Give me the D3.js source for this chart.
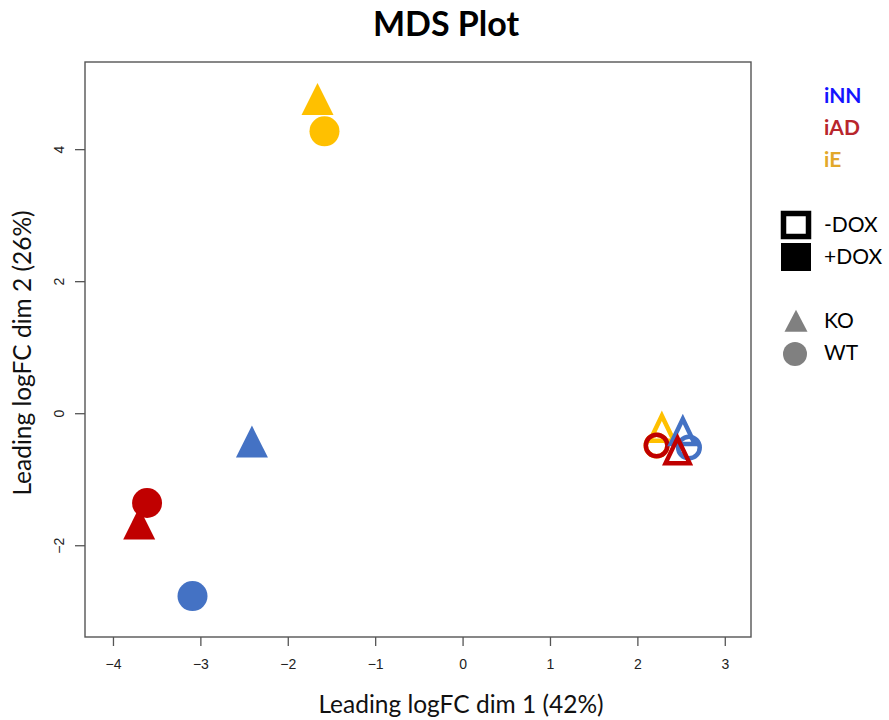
<!DOCTYPE html>
<html>
<head>
<meta charset="utf-8">
<script src="https://cdn.jsdelivr.net/npm/d3@7"></script>
<style>
  html, body { margin: 0; padding: 0; background: #fff; }
  svg { display: block; }
</style>
</head>
<body>
<svg id="chart" width="889" height="720"></svg>
<script>
// ---- data ----
const cellTypes = ["iE", "iE", "iNN", "iAD", "iAD", "iNN", "iE", "iE", "iAD", "iNN", "iNN", "iAD"];
const doxState  = ["+DOX", "+DOX", "+DOX", "+DOX", "+DOX", "+DOX", "-DOX", "-DOX", "-DOX", "-DOX", "-DOX", "-DOX"];
const genotypes = ["KO", "WT", "KO", "WT", "KO", "WT", "WT", "KO", "WT", "KO", "WT", "KO"];
const dim1      = [-1.66, -1.58, -2.41, -3.61, -3.70, -3.09, 2.22, 2.28, 2.22, 2.52, 2.59, 2.46];
const dim2      = [4.68, 4.27, -0.51, -1.36, -1.75, -2.77, -0.49, -0.29, -0.49, -0.34, -0.52, -0.63];

const xTicks = [-4, -3, -2, -1, 0, 1, 2, 3];
const yTicks = [-2, 0, 2, 4];

const groupNames = ["iNN", "iAD", "iE"];
const doxNames = ["-DOX", "+DOX"];
const genoNames = ["KO", "WT"];

const title = "MDS Plot";
const xLabel = "Leading logFC dim 1 (42%)";
const yLabel = "Leading logFC dim 2 (26%)";

// ---- styles ----
const pointColor = { iNN: "#4472C4", iAD: "#C00000", iE: "#FFC000" };
const legendTextColor = { iNN: "#1414FF", iAD: "#B8262C", iE: "#E2A82A" };
const calibriLike = "Lato, 'Open Sans', sans-serif";

const svg = d3.select("#chart");
const box = { left: 85, right: 751, top: 62, bottom: 637 };

const x = d3.scaleLinear().domain([-4.32, 3.30]).range([box.left, box.right]);
const y = d3.scaleLinear().domain([-3.39, 5.32]).range([box.bottom, box.top]);

// title
svg.append("text")
  .attr("x", 446).attr("y", 36)
  .attr("text-anchor", "middle")
  .style("font-family", calibriLike)
  .style("font-weight", "bold")
  .style("font-size", "34px")
  .attr("fill", "#000")
  .text(title);

// axes
const fmt = d => d < 0 ? "\u2212" + Math.abs(d) : String(d);
const xAxis = svg.append("g")
  .attr("transform", `translate(0,${box.bottom})`)
  .call(d3.axisBottom(x).tickValues(xTicks).tickSize(9).tickSizeOuter(0).tickFormat(fmt));
xAxis.select(".domain").remove();
xAxis.selectAll("line").attr("stroke", "#555").attr("stroke-width", 1.3);
xAxis.selectAll("text")
  .attr("y", 22)
  .style("font-family", "'Liberation Sans', Arial, sans-serif")
  .style("font-size", "14px")
  .attr("fill", "#222");

const yAxis = svg.append("g")
  .attr("transform", `translate(${box.left},0)`)
  .call(d3.axisLeft(y).tickValues(yTicks).tickSize(10).tickSizeOuter(0).tickFormat(fmt));
yAxis.select(".domain").remove();
yAxis.selectAll("line").attr("stroke", "#555").attr("stroke-width", 1.3);
yAxis.selectAll("text")
  .attr("x", null).attr("dy", null)
  .attr("text-anchor", "middle")
  .attr("transform", "translate(-26,0) rotate(-90)")
  .attr("dominant-baseline", "central")
  .style("font-family", "'Liberation Sans', Arial, sans-serif")
  .style("font-size", "14px")
  .attr("fill", "#222");

// plot box
svg.append("rect")
  .attr("x", box.left).attr("y", box.top)
  .attr("width", box.right - box.left).attr("height", box.bottom - box.top)
  .attr("fill", "none").attr("stroke", "#555").attr("stroke-width", 1.4);

// axis labels
svg.append("text")
  .attr("x", 461).attr("y", 713)
  .attr("text-anchor", "middle")
  .style("font-family", calibriLike)
  .style("font-size", "24.5px")
  .attr("fill", "#111")
  .text(xLabel);

svg.append("text")
  .attr("transform", "translate(31,353) rotate(-90)")
  .attr("text-anchor", "middle")
  .style("font-family", calibriLike)
  .style("font-size", "24.5px")
  .attr("fill", "#111")
  .text(yLabel);

// custom isosceles triangle centred on centroid
function triPath(w, h) {
  return `M0,${-2 * h / 3}L${w / 2},${h / 3}L${-w / 2},${h / 3}Z`;
}

// points
const pts = dim1.map((d, i) => ({ x: d, y: dim2[i], cell: cellTypes[i], dox: doxState[i], geno: genotypes[i] }));
const gPts = svg.append("g");
pts.forEach(p => {
  const col = pointColor[p.cell];
  const filled = p.dox === "+DOX";
  const cx = x(p.x), cy = y(p.y);
  if (p.geno === "KO") {
    gPts.append("path")
      .attr("d", filled ? triPath(32, 32) : triPath(24, 25))
      .attr("transform", `translate(${cx},${cy})`)
      .attr("fill", filled ? col : "none")
      .attr("stroke", filled ? "none" : col)
      .attr("stroke-width", filled ? 0 : 4.5)
      .attr("stroke-linejoin", "miter");
  } else {
    gPts.append("circle")
      .attr("cx", cx).attr("cy", cy)
      .attr("r", filled ? 15 : 10.8)
      .attr("fill", filled ? col : "none")
      .attr("stroke", filled ? "none" : col)
      .attr("stroke-width", filled ? 0 : 4.5);
  }
});

// legend: cell types
const legX = 824;
const legY = [103, 135, 167];
groupNames.forEach((g, i) => {
  svg.append("text")
    .attr("x", legX).attr("y", legY[i])
    .style("font-family", calibriLike)
    .style("font-weight", "bold")
    .style("font-size", "21px")
    .attr("fill", legendTextColor[g])
    .text(g);
});

// legend: DOX
const doxY = [211, 243];
doxNames.forEach((d, i) => {
  if (d === "-DOX") {
    svg.append("rect")
      .attr("x", 783.5).attr("y", doxY[i] + 2.5)
      .attr("width", 25).attr("height", 23)
      .attr("fill", "#fff").attr("stroke", "#000").attr("stroke-width", 5.5);
  } else {
    svg.append("rect")
      .attr("x", 781).attr("y", doxY[i])
      .attr("width", 30).attr("height", 28)
      .attr("fill", "#000");
  }
  svg.append("text")
    .attr("x", legX).attr("y", doxY[i] + 21)
    .style("font-family", calibriLike)
    .style("font-size", "21px")
    .attr("fill", "#000")
    .text(d);
});

// legend: genotype
svg.append("path")
  .attr("d", triPath(23, 22))
  .attr("transform", "translate(796,324.5)")
  .attr("fill", "#808080");
svg.append("circle")
  .attr("cx", 795).attr("cy", 354).attr("r", 12)
  .attr("fill", "#808080");
const genoY = [328, 360];
genoNames.forEach((g, i) => {
  svg.append("text")
    .attr("x", legX).attr("y", genoY[i])
    .style("font-family", calibriLike)
    .style("font-size", "21px")
    .attr("fill", "#000")
    .text(g);
});
</script>
</body>
</html>
